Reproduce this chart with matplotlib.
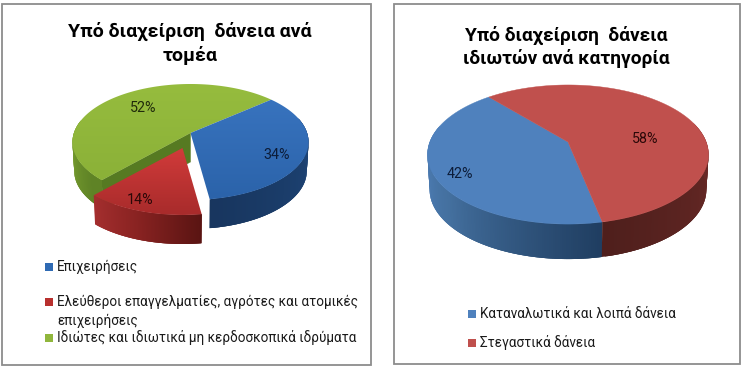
import numpy as np
import matplotlib
matplotlib.use("Agg")
import matplotlib.pyplot as plt
from matplotlib.colors import to_rgb, LinearSegmentedColormap
from matplotlib.collections import PolyCollection
from matplotlib.patches import Rectangle, Polygon

# data
sector_title = "Υπό διαχείριση  δάνεια ανά\nτομέα"
sector_labels = ["Επιχειρήσεις",
                 "Ελεύθεροι επαγγελματίες, αγρότες και ατομικές\nεπιχειρήσεις",
                 "Ιδιώτες και ιδιωτικά μη κερδοσκοπικά ιδρύματα"]
sector_values = [34, 14, 52]
household_title = "Υπό διαχείριση  δάνεια\nιδιωτών ανά κατηγορία"
household_labels = ["Καταναλωτικά και λοιπά δάνεια", "Στεγαστικά δάνεια"]
household_values = [42, 58]

FONT = "Roboto"
TXT = "#1a1a1a"
fig = plt.figure(figsize=(7.46, 3.72), dpi=100, facecolor="white")
ax = fig.add_axes([0, 0, 1, 1])


def rim(g, t):
    k = g["k"]; r = 1 + k * np.sin(t)
    return g["x"] + g["a"] * np.cos(t) / r, g["y"] - g["b"] * np.sin(t) / r


def ramp(stops, deg):
    ts = [s[0] for s in stops]
    cs = np.array([to_rgb(s[1]) for s in stops])
    return [np.interp(deg, ts, cs[:, i]) for i in range(3)]


def slice3d(g, d0, d1, top, side, off=(0, 0), walls=()):
    ox, oy = off
    D = g["d"]
    ts = np.radians(np.linspace(d0, d1, 200))
    xs, ys = rim(g, ts)
    xs, ys = xs + ox, ys + oy
    ax_, ay_ = g["x"] + ox, g["y"] + oy
    shr = g["shr"]
    xl = ax_ + (xs - ax_) * shr
    yl = ys + D
    for (deg, col) in walls:
        px, py = rim(g, np.radians(deg))
        px += ox; py += oy
        ax.add_patch(Polygon([(ax_, ay_), (px, py), (ax_ + (px - ax_) * shr, py + D), (ax_, ay_ + D)],
                             fc=col, ec=col, lw=.3, zorder=g["z"] + .1))
    quads, cols = [], []
    for i in range(len(ts) - 1):
        if np.sin(ts[i]) > 0.25:
            continue
        j = min(i + 3, len(ts) - 1)
        quads.append([(xs[i], ys[i]), (xs[j], ys[j]), (xl[j], yl[j]), (xl[i], yl[i])])
        cols.append(ramp(side, np.degrees(ts[i])))
    ax.add_collection(PolyCollection(quads, facecolors=cols, edgecolors="none", linewidths=0, zorder=g["z"] + .2))
    outline = np.c_[np.r_[ax_, xs], np.r_[ay_, ys]]
    if isinstance(top, str):
        ax.add_patch(Polygon(outline, fc=top, ec=top, lw=.3, zorder=g["z"] + .3))
    else:
        poly = Polygon(outline, fc="none", ec="none", transform=ax.transData)
        ax.add_patch(poly)
        cmap = LinearSegmentedColormap.from_list("t", top)
        x0, x1, y0, y1 = outline[:, 0].min(), outline[:, 0].max(), outline[:, 1].min(), outline[:, 1].max()
        grad = np.linspace(0, 1, 64)[:, None]
        im = ax.imshow(grad, cmap=cmap, extent=(x0, x1, y1, y0), origin="upper", aspect="auto",
                       zorder=g["z"] + .3, interpolation="bilinear")
        im.set_clip_path(poly)


def text(x, y, s, size, weight="normal", ha="left", va="center", color=TXT, ls=1.2, z=10):
    ax.text(x, y, s, fontsize=size, fontweight=weight, ha=ha, va=va, color=color,
            family=FONT, linespacing=ls, zorder=z, multialignment="center" if ha == "center" else "left")


def legend_entry(sx, sy, tx, label, col, size=9.75):
    ax.add_patch(Rectangle((sx, sy - 4), 8, 8, fc=col, ec="none", zorder=9))
    for i, line in enumerate(label.split("\n")):
        text(tx, sy + 4 + 19 * i, line, size, va="baseline")


# frames
for (x0, y0, x1, y1) in [(2, 4, 371, 365), (394, 4, 740, 364)]:
    ax.add_patch(Rectangle((x0, y0), x1 - x0, y1 - y0, fc="white", ec="#8c8c8c", lw=1.3, zorder=0))

# left pie
gL = dict(x=190.5, y=133, a=116.6, b=56.6, k=.155, d=29, shr=.985, z=2)
start = 40.4
b0, b1 = start, start - sector_values[0] * 3.6
r0, r1 = b1, b1 - sector_values[1] * 3.6
g0, g1 = r1, r1 - sector_values[2] * 3.6
slice3d(dict(gL, z=2), g1, g0, ["#96bc3e", "#8bb138"],
        [(-320, "#7fa532"), (-180, "#7fa532"), (-140, "#5f8326")], walls=[(g0, "#567a22")])
slice3d(dict(gL, z=3), b1, b0, ["#3873be", "#2b63aa"],
        [(-90, "#17345c"), (0, "#1e4577"), (45, "#1e4577")])
slice3d(dict(gL, z=5), r1, r0, ["#d13b3a", "#a82b2b"],
        [(-135, "#a83030"), (-110, "#8a2322"), (-80, "#561311")], off=(-8, 15))
text(143, 108, f"{sector_values[2]}%", 10.3, ha="center", color="#1f2a0a")
text(277, 155, f"{sector_values[0]}%", 10.3, ha="center", color="#0c1c38")
text(140, 200, f"{sector_values[1]}%", 10.3, ha="center", color="#2a0808")
text(190, 43.5, sector_title, 14, weight="bold", ha="center", color="#000000", ls=1.3)

# left legend
for (yy, lab, col) in zip([267, 302, 338], sector_labels, ["#2f6ab3", "#b8302e", "#90b63c"]):
    legend_entry(44.5, yy, 57, lab, col)

# right pie
gR = dict(x=568, y=142, a=138.2, b=67.3, k=.18, d=35, shr=.985, z=2)
s0 = 130.6
a1 = s0 + household_values[0] * 3.6
a2 = a1 + household_values[1] * 3.6
slice3d(dict(gR, z=2), s0, a1, "#4f81bd", [(180, "#4f80ba"), (220, "#44709f"), (282, "#1f3d60")])
slice3d(dict(gR, z=3), a1, a2, "#c0504d", [(282, "#4f1f1c"), (340, "#632724"), (370, "#6d2a28")])
text(460, 174, f"{household_values[0]}%", 10.3, ha="center", color="#0c1c38")
text(645, 139, f"{household_values[1]}%", 10.3, ha="center", color="#2a0808")
text(566, 47, household_title, 13.8, weight="bold", ha="center", color="#000000", ls=1.3)
for (yy, lab, col) in zip([314, 343], household_labels, ["#4f81bd", "#c0504d"]):
    legend_entry(468, yy, 480, lab, col)

ax.set_xlim(0, 746); ax.set_ylim(372, 0); ax.axis("off")
fig.savefig("out.png", dpi=100, facecolor="white")
